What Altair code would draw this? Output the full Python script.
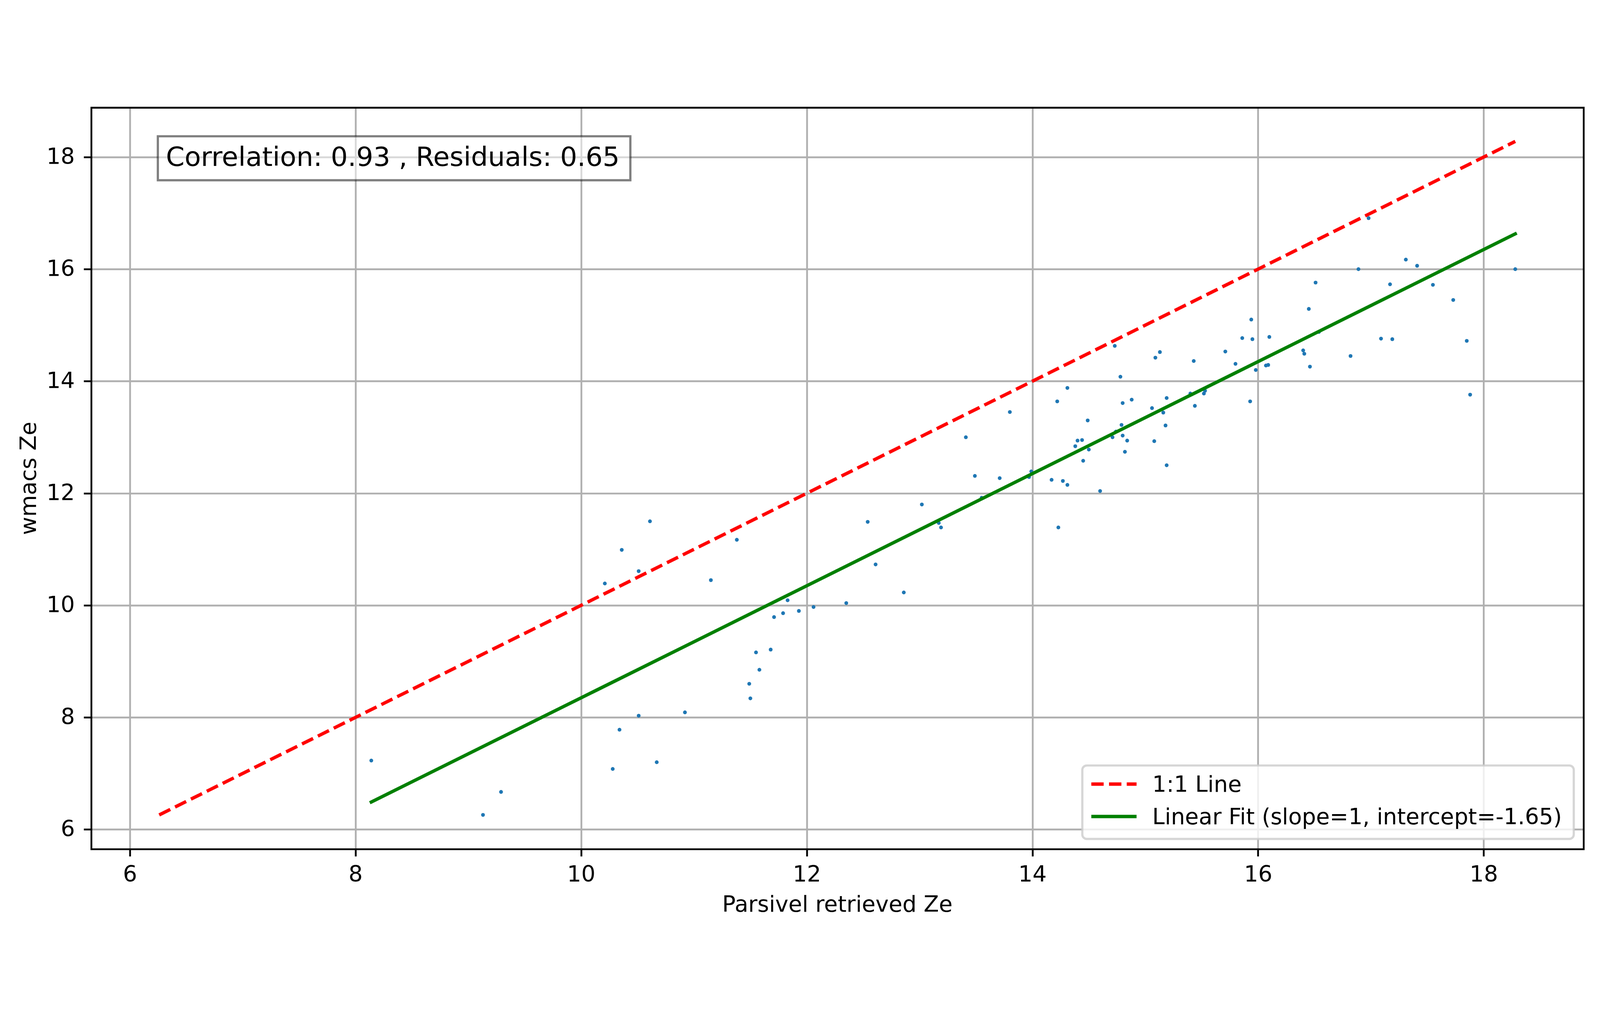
import altair as alt
import pandas as pd

# ---- data ----
parsivel_ze = [8.14, 9.13, 9.29, 10.21, 10.28, 10.34, 10.36, 10.51, 10.51, 10.61,
               10.67, 10.92, 11.15, 11.38, 11.49, 11.50, 11.55, 11.58, 11.68, 11.71,
               11.79, 11.83, 11.93, 12.06, 12.35, 12.54, 12.61, 12.86, 13.02, 13.17,
               13.19, 13.41, 13.49, 13.55, 13.71, 13.80, 13.97, 13.99, 14.17, 14.22,
               14.23, 14.27, 14.31, 14.31, 14.38, 14.40, 14.44, 14.45, 14.49, 14.50,
               14.60, 14.71, 14.73, 14.74, 14.78, 14.79, 14.80, 14.80, 14.82, 14.84,
               14.88, 15.06, 15.08, 15.09, 15.13, 15.16, 15.18, 15.19, 15.19, 15.40,
               15.43, 15.44, 15.52, 15.53, 15.71, 15.80, 15.86, 15.93, 15.94, 15.95,
               15.98, 16.07, 16.09, 16.10, 16.40, 16.41, 16.45, 16.46, 16.51, 16.54,
               16.82, 16.89, 16.98, 17.09, 17.17, 17.19, 17.31, 17.41, 17.55, 17.73,
               17.85, 17.88, 18.28]
wmacs_ze = [7.23, 6.26, 6.67, 10.39, 7.08, 7.78, 10.99, 10.61, 8.03, 11.50,
            7.20, 8.09, 10.45, 11.17, 8.60, 8.34, 9.16, 8.85, 9.21, 9.79,
            9.86, 10.09, 9.90, 9.97, 10.04, 11.49, 10.73, 10.23, 11.80, 11.47,
            11.39, 13.00, 12.31, 11.92, 12.27, 13.45, 12.29, 12.39, 12.24, 13.64,
            11.39, 12.22, 12.15, 13.88, 12.84, 12.94, 12.95, 12.58, 13.30, 12.78,
            12.04, 13.00, 14.63, 13.10, 14.08, 13.22, 13.61, 13.03, 12.74, 12.94,
            13.67, 13.52, 12.93, 14.42, 14.52, 13.44, 13.21, 13.70, 12.50, 13.78,
            14.36, 13.56, 13.78, 13.83, 14.53, 14.31, 14.77, 13.64, 15.10, 14.75,
            14.20, 14.28, 14.29, 14.79, 14.55, 14.49, 15.29, 14.26, 15.76, 14.88,
            14.45, 16.00, 16.91, 14.76, 15.73, 14.75, 16.17, 16.06, 15.72, 15.45,
            14.72, 13.76, 16.00]
fit_slope = 1.0
fit_intercept = -1.65
correlation = 0.93
residuals = 0.65
axis_ticks = [6, 8, 10, 12, 14, 16, 18]
legend_labels = ["1:1 Line", "Linear Fit (slope=1, intercept=-1.65)"]
x_title = "Parsivel retrieved Ze"
y_title = "wmacs Ze"

# ---- derived tables ----
lo = min(min(parsivel_ze), min(wmacs_ze))
hi = max(max(parsivel_ze), max(wmacs_ze))
margin = 0.05 * (hi - lo)
domain = [lo - margin, hi + margin]

pts = pd.DataFrame({"x": parsivel_ze, "y": wmacs_ze})
one_to_one = pd.DataFrame({"x": [lo, hi], "y": [lo, hi]})
fx = [min(parsivel_ze), max(parsivel_ze)]
fit = pd.DataFrame({"x": fx, "y": [fit_slope * v + fit_intercept for v in fx]})
single = pd.DataFrame({"k": [0]})

W, H = 4649, 2311          # intended plot area
FONT = "DejaVu Sans"
FS = 69.4
LW = 10.4

scale = alt.Scale(domain=domain, nice=False, zero=False)

def make_axis(title, label_pad, title_pad):
    return alt.Axis(
        title=title, values=axis_ticks, format="d", grid=True,
        gridColor="#b0b0b0", gridWidth=5.6, domain=False,
        ticks=True, tickColor="black", tickWidth=5.6, tickSize=24,
        labelFont=FONT, labelFontSize=FS, labelColor="black",
        labelPadding=label_pad, labelFlush=False, labelOverlap=False,
        titleFont=FONT, titleFontSize=FS, titleFontWeight="normal",
        titleColor="black", titlePadding=title_pad,
    )

scatter = alt.Chart(pts).mark_circle(size=140, color="#1f77b4", opacity=1).encode(
    x=alt.X("x:Q", scale=scale, axis=make_axis(x_title, 24, 25)),
    y=alt.Y("y:Q", scale=scale, axis=make_axis(y_title, 28, 18)),
)

line_11 = alt.Chart(one_to_one).mark_line(
    color="red", strokeWidth=LW, strokeDash=[38.5, 16.7], strokeCap="butt"
).encode(x=alt.X("x:Q", scale=scale), y=alt.Y("y:Q", scale=scale))

line_fit = alt.Chart(fit).mark_line(
    color="green", strokeWidth=LW, strokeCap="square"
).encode(x=alt.X("x:Q", scale=scale), y=alt.Y("y:Q", scale=scale))

# annotation box with correlation text
ann_text = f"Correlation: {correlation:.2f} , Residuals: {residuals:.2f}"
ann_box = alt.Chart(single).mark_rect(
    fill="white", fillOpacity=0.5, stroke="black", strokeOpacity=0.5, strokeWidth=6.9
).encode(x=alt.value(207), x2=alt.value(1679), y=alt.value(89), y2=alt.value(226))
ann = alt.Chart(single).mark_text(
    align="left", baseline="alphabetic", font=FONT, fontSize=83.3, color="black"
).encode(x=alt.value(232), y=alt.value(181), text=alt.value(ann_text))

# legend box at lower right
leg_box = alt.Chart(single).mark_rect(
    fill="white", fillOpacity=0.8, stroke="#cccccc", strokeOpacity=0.8,
    strokeWidth=6.9, cornerRadius=14
).encode(x=alt.value(3087), x2=alt.value(4618), y=alt.value(2050), y2=alt.value(2279))
leg_red = alt.Chart(single).mark_rule(
    color="red", strokeWidth=LW, strokeDash=[38.5, 16.7], strokeCap="butt"
).encode(x=alt.value(3115), x2=alt.value(3256), y=alt.value(2108))
leg_green = alt.Chart(single).mark_rule(
    color="green", strokeWidth=LW, strokeCap="butt"
).encode(x=alt.value(3115), x2=alt.value(3256), y=alt.value(2209))
leg_t1 = alt.Chart(single).mark_text(
    align="left", baseline="alphabetic", font=FONT, fontSize=FS, color="black"
).encode(x=alt.value(3305), y=alt.value(2132), text=alt.value(legend_labels[0]))
leg_t2 = alt.Chart(single).mark_text(
    align="left", baseline="alphabetic", font=FONT, fontSize=FS, color="black"
).encode(x=alt.value(3305), y=alt.value(2233), text=alt.value(legend_labels[1]))

border = alt.Chart(single).mark_rect(
    filled=False, stroke="black", strokeWidth=5.6
).encode(x=alt.value(0), x2=alt.value(W), y=alt.value(0), y2=alt.value(H))

chart = alt.layer(
    scatter, line_11, line_fit, ann_box, ann,
    leg_box, leg_red, leg_green, leg_t1, leg_t2, border
).properties(
    width=4965, height=2600,
    padding={"left": 45, "top": 41, "right": 43, "bottom": 37},
    autosize=alt.AutoSizeParams(type="fit", contains="padding"),
    background="white",
).configure_view(stroke=None)

chart.save("out.html", embed_options={"renderer": "svg", "actions": False})
